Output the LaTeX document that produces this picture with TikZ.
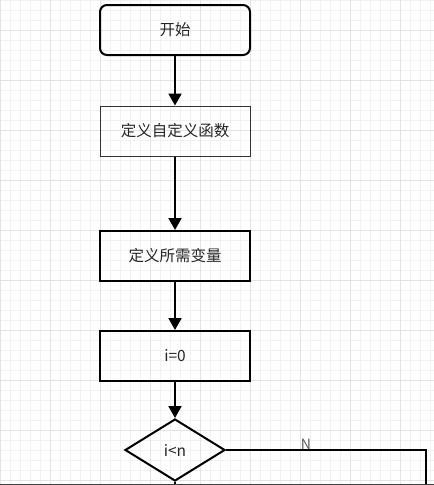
\documentclass[tikz,border=0pt]{standalone}
\usepackage{fontspec}
\setmainfont{Noto Sans CJK SC}
\definecolor{gridminor}{HTML}{F1F1F1}
\definecolor{gridmajor}{HTML}{E3E3E3}
\definecolor{thinedge}{HTML}{333333}
\usetikzlibrary{positioning,arrows.meta,shapes.geometric}

\begin{document}
\begin{tikzpicture}[
        x=1pt, y=1pt,
        font=\fontsize{15.5}{18}\selectfont,
        box/.style={rectangle, draw, line width=2pt, text=black!85,
                    minimum width=150pt, minimum height=50pt, inner sep=0pt},
        rbox/.style={box, rounded corners=7pt},
        thinbox/.style={box, line width=1pt, draw=thinedge},
        dec/.style={diamond, draw, line width=2pt, text=black!85,
                    minimum width=100pt, minimum height=62pt, inner sep=0pt},
        arr/.style={-{Triangle[length=12pt, width=13pt]}, line width=2pt},
        ln/.style={line width=2pt}
      ]
        \useasboundingbox (0,0) rectangle (434,-485);
        \clip (0,0) rectangle (434,-485);
        % grid paper
        \draw[gridminor, line width=1pt] (0,0) grid[step=10pt] (434,-485);
        \foreach \gx in {0,50,...,400} \draw[gridmajor, line width=1pt] (\gx,0) -- (\gx,-485);
        \foreach \gy in {30,80,...,480} \draw[gridmajor, line width=1pt] (0,-\gy) -- (434,-\gy);

        \node[rbox] (start) at (175,-30) {开始};
        \node[thinbox, below=49.5pt of start] (func) {定义自定义函数};
        \node[box, below=73.5pt of func] (vars) {定义所需变量};
        \node[box, below=48pt of vars] (init) {i=0};
        \node[dec, below=36pt of init] (cond) {i<n};
        \draw[arr] (start)--(func); \draw[arr] (func)--(vars);
        \draw[arr] (vars)--(init); \draw[arr] (init)--(cond);

        \path (cond.east) ++(200,0) coordinate (nturn);
        \path (nturn) ++(0,-50) coordinate (nend);
        \path (cond.south) ++(0,-20) coordinate (yend);
        \draw[ln] (cond.east) -- node[pos=0.4, above, inner sep=0pt,
              font=\fontsize{14}{16}\selectfont, text=black!65] (nlab) {N}
              (nturn) -- (nend);
        \draw[ln] (cond.south) -- (yend);

        \draw[black!75, line width=1.5pt] (0,-484.5) -- (434,-484.5);
      \end{tikzpicture}
\end{document}
